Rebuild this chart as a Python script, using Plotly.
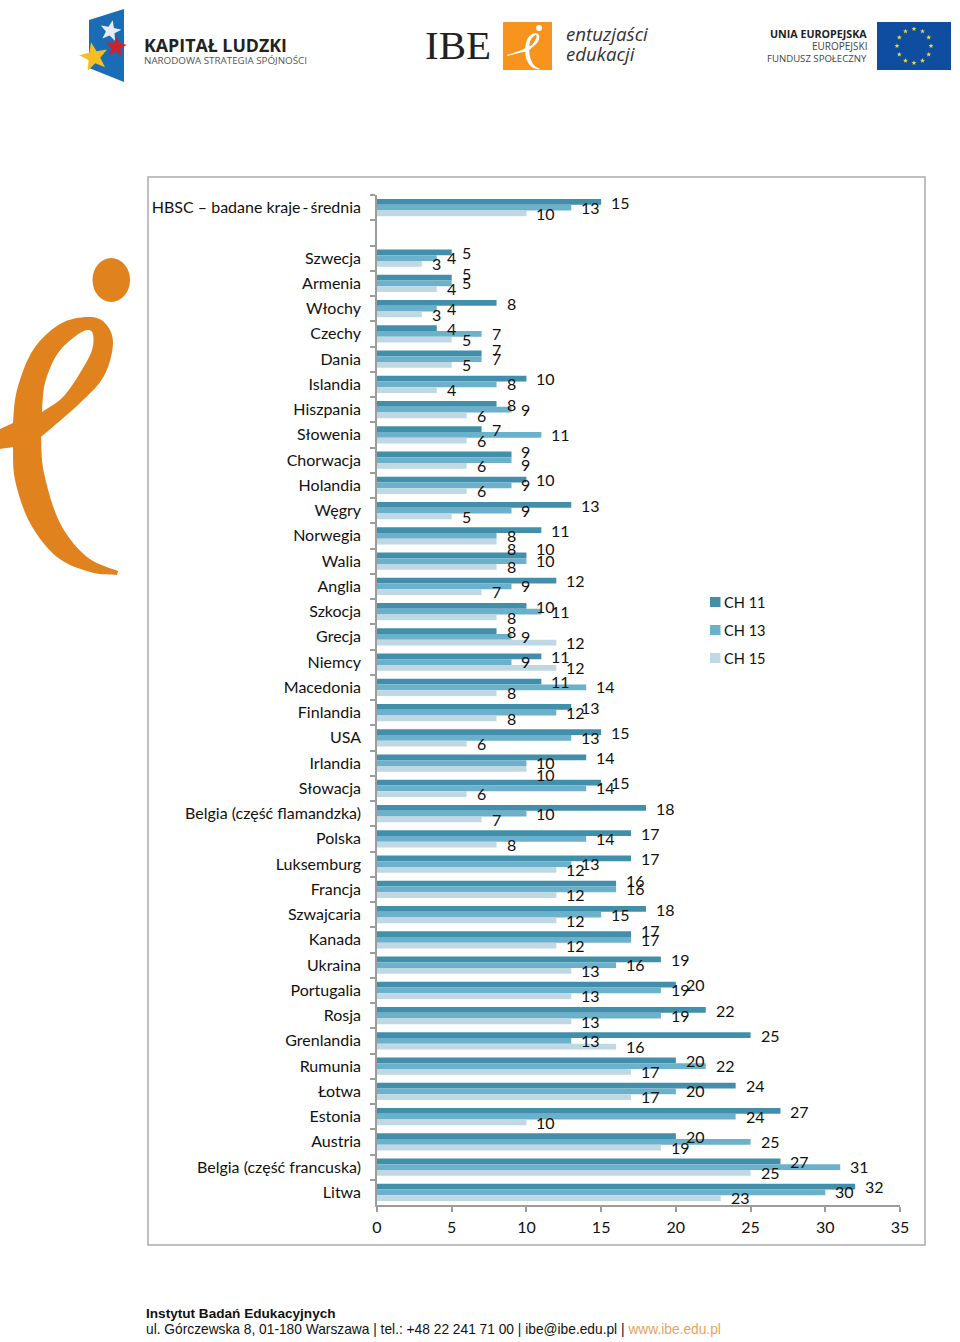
import math

import plotly.graph_objects as go

# page geometry in pixels
W, H = 960, 1342
ML, MR, MT, MB = 377, 60, 195, 137
PW, PH = W - ML - MR, H - MT - MB

categories = ["HBSC – badane kraje\u2009-\u2009średnia", " ", "Szwecja", "Armenia", "Włochy", "Czechy", "Dania",
              "Islandia", "Hiszpania", "Słowenia", "Chorwacja", "Holandia", "Węgry", "Norwegia", "Walia",
              "Anglia", "Szkocja", "Grecja", "Niemcy", "Macedonia", "Finlandia", "USA", "Irlandia",
              "Słowacja", "Belgia (część flamandzka)", "Polska", "Luksemburg", "Francja", "Szwajcaria",
              "Kanada", "Ukraina", "Portugalia", "Rosja", "Grenlandia", "Rumunia", "Łotwa", "Estonia",
              "Austria", "Belgia (część francuska)", "Litwa"]
ch11 = [15, None, 5, 5, 8, 4, 7, 10, 8, 7, 9, 10, 13, 11, 10, 12, 10, 8, 11, 11, 13, 15, 14, 15, 18, 17, 17,
        16, 18, 17, 19, 20, 22, 25, 20, 24, 27, 20, 27, 32]
ch13 = [13, None, 4, 5, 4, 7, 7, 8, 9, 11, 9, 9, 9, 8, 10, 9, 11, 9, 9, 14, 12, 13, 10, 14, 10, 14, 13,
        16, 15, 17, 16, 19, 19, 13, 22, 20, 24, 25, 31, 30]
ch15 = [10, None, 3, 4, 3, 5, 5, 4, 6, 6, 6, 6, 5, 8, 8, 7, 8, 12, 12, 8, 8, 6, 10, 6, 7, 8, 12,
        12, 12, 12, 13, 13, 13, 16, 17, 17, 10, 19, 25, 23]
x_ticks = [0, 5, 10, 15, 20, 25, 30, 35]

TEXT = "#111111"
AXIS = "#9c9c9c"
series = [("CH 11", ch11, "#418FAB", 5.5, 602), ("CH 13", ch13, "#6CB1CB", 0.5, 630), ("CH 15", ch15, "#BFD8E3", -5.5, 658)]
# equal neighbours were pulled apart by hand in the original chart
label_nudge = {("Armenia", "CH 11"): 4.5, ("Dania", "CH 11"): 4, ("Chorwacja", "CH 11"): 3.5, ("Chorwacja", "CH 13"): -5,
               ("Walia", "CH 11"): 7.5, ("Norwegia", "CH 15"): -7, ("Irlandia", "CH 15"): -6, ("Francja", "CH 11"): 3.5,
               ("Kanada", "CH 11"): 3.5}


def px(x):
    return (x - ML) / PW


def py(y):
    return 1 - (y - MT) / PH


def poly_path(points):
    return "M" + " L".join(f"{px(x):.5f},{py(y):.5f}" for x, y in points) + " Z"


def smooth_path(points):
    # closed catmull-rom outline through hand picked points, a repeated point gives a corner
    n = len(points)
    out = f"M{px(points[0][0]):.5f},{py(points[0][1]):.5f}"
    for i in range(n):
        p0, p1, p2, p3 = points[i - 1], points[i], points[(i + 1) % n], points[(i + 2) % n]
        if p1 == p2:
            continue
        c1 = (p1[0] + (p2[0] - p0[0]) / 6, p1[1] + (p2[1] - p0[1]) / 6)
        c2 = (p2[0] - (p3[0] - p1[0]) / 6, p2[1] - (p3[1] - p1[1]) / 6)
        out += f" C{px(c1[0]):.5f},{py(c1[1]):.5f} {px(c2[0]):.5f},{py(c2[1]):.5f} {px(p2[0]):.5f},{py(p2[1]):.5f}"
    return out + " Z"


def star_path(cx, cy, r, rot=0.0):
    pts = []
    for i in range(10):
        rad = r if i % 2 == 0 else r * 0.42
        a = rot - math.pi / 2 + i * math.pi / 5
        pts.append((cx + rad * math.cos(a), cy + rad * math.sin(a)))
    return poly_path(pts)


def shape(path, color):
    return dict(type="path", xref="paper", yref="paper", path=path, fillcolor=color, line=dict(width=0), layer="below")


def box(x0, x1, y0, y1, color, kind="rect"):
    return dict(type=kind, xref="paper", yref="paper", x0=px(x0), x1=px(x1), y0=py(y0), y1=py(y1),
                fillcolor=color, line=dict(width=0), layer="below")


def label(x, y, text, size, color="#222222", family="Open Sans", anchor="left"):
    return dict(xref="paper", yref="paper", x=px(x), y=py(y), text=text, showarrow=False, xanchor=anchor,
                yanchor="middle", font=dict(size=size, color=color, family=family))


# the big "e" of the project logo, traced by hand
E_OUTER = [(0, 429), (0, 429), (13, 423), (13, 423), (17, 390), (33, 350), (60, 324), (88, 317), (105, 323), (113, 343),
           (104, 376), (80, 403), (41, 437), (41, 437), (44, 473), (60, 523), (87, 557), (118, 571), (118, 571),
           (117, 575), (117, 575), (90, 572), (57, 557), (30, 523), (15, 480), (13, 447), (13, 447), (0, 449), (0, 449)]
E_HOLE = [(42, 412), (42, 412), (45, 383), (58, 353), (80, 333), (92, 332), (92, 350), (80, 373), (63, 397)]


def small_e(points):
    return [(x * 0.14 + 523.5, y * 0.14 - 11.2) for x, y in points]


shapes = [
    dict(type="rect", xref="paper", yref="paper", x0=px(148), x1=px(925), y0=py(177), y1=py(1245),
         line=dict(color="#ababab", width=1.5), fillcolor="rgba(0,0,0,0)", layer="below"),
    # big e
    shape(smooth_path(E_OUTER) + " " + smooth_path(E_HOLE), "#E0821E"),
    box(92.5, 130, 258, 302, "#E0821E", "circle"),
    # kapital ludzki flag
    shape(poly_path([(89, 20), (124, 9), (124, 82), (89, 68)]), "#1A6CB5"),
    shape(star_path(110.5, 31, 11, 0.2), "#E8ECF2"),
    shape(star_path(116, 47, 11, 0.1), "#D3202B"),
    shape(star_path(94, 57, 15, -0.2), "#F4BE22"),
    # entuzjasci square
    box(503, 552, 22, 70, "#F7941E"),
    shape(smooth_path(small_e(E_OUTER)) + " " + smooth_path(small_e(E_HOLE)), "#FFFFFF"),
    shape(poly_path([(507, 55), (525, 49), (525, 51.5), (507, 56)]), "#FFFFFF"),
    box(536, 542, 25, 31, "#FFFFFF", "circle"),
    # eu flag
    box(877, 951, 22, 70, "#0F4DA1"),
]
for i in range(12):
    a = i * math.pi / 6
    shapes.append(shape(star_path(914 + 17 * math.sin(a), 46 - 17 * math.cos(a), 2.6), "#E6DC3C"))

annotations = [
    label(142, 45, "<b>KAPITAŁ LUDZKI</b>", 17.8),
    label(142, 60.5, "NARODOWA STRATEGIA SPÓJNOŚCI", 9.8, "#555555"),
    label(423, 45, "IBE", 41, "#222222", "Liberation Serif"),
    label(564, 33, "<i>entuzjaści</i>", 18.7, "#333333"),
    label(564, 54, "<i>edukacji</i>", 18.7, "#333333"),
    label(869, 34, "<b>UNIA EUROPEJSKA</b>", 10.7, "#222222", "Open Sans", "right"),
    label(869, 46, "EUROPEJSKI", 10, "#444444", "Open Sans", "right"),
    label(869, 59, "FUNDUSZ SPOŁECZNY", 9.6, "#444444", "Open Sans", "right"),
    label(144, 1313, "<b>Instytut Badań Edukacyjnych</b>", 13.6, "#111111", "Liberation Sans"),
    label(144, 1329, "ul. Górczewska 8, 01-180 Warszawa | tel.: +48 22 241 71 00 | ibe@ibe.edu.pl | "
                     "<span style='color:#E8A45C'>www.ibe.edu.pl</span>", 13.75, "#111111", "Liberation Sans"),
]

fig = go.Figure()
for name, values, color, shift, legend_y in series:
    fig.add_trace(go.Bar(name=name, y=categories, x=values, orientation="h", marker=dict(color=color, line=dict(width=0))))
    # labels sit detached from the bar ends, like in the original
    for cat, val in zip(categories, values):
        if val is None:
            continue
        annotations.append(dict(x=val, y=cat, xref="x", yref="y", text=str(val), showarrow=False, xanchor="left",
                                yanchor="middle", xshift=8, yshift=shift + label_nudge.get((cat, name), 0),
                                font=dict(size=16, color=TEXT)))
    # legend keys sit closer to their text than the built in legend allows
    shapes.append(box(710, 720.5, legend_y - 5, legend_y + 5, color))
    annotations.append(label(722, legend_y, name, 14.6, TEXT, "Lato"))

fig.update_layout(
    width=W, height=H,
    margin=dict(l=ML, r=MR, t=MT, b=MB, pad=0, autoexpand=False),
    paper_bgcolor="white", plot_bgcolor="white",
    font=dict(family="Lato", size=16, color=TEXT),
    barmode="group", bargap=0.31, bargroupgap=0,
    showlegend=False,
    shapes=shapes, annotations=annotations,
)
fig.update_yaxes(categoryorder="array", categoryarray=categories, range=[len(categories) - 0.5, -0.5], tickson="boundaries",
                 ticks="outside", ticklen=5, tickcolor=AXIS, tickwidth=1.5, showline=True, linecolor=AXIS,
                 linewidth=1.5, showgrid=False, ticklabelstandoff=11, tickfont=dict(size=16, color=TEXT))
fig.update_xaxes(range=[0, 35], tickvals=x_ticks, ticks="outside", ticklen=5, tickcolor=AXIS, tickwidth=1.5,
                 showline=True, linecolor=AXIS, linewidth=1.5, showgrid=False, zeroline=False,
                 ticklabelstandoff=2, tickfont=dict(size=16, color=TEXT))

fig.write_html("out.html", config={"displayModeBar": False}, post_script="document.body.style.margin='0';")
